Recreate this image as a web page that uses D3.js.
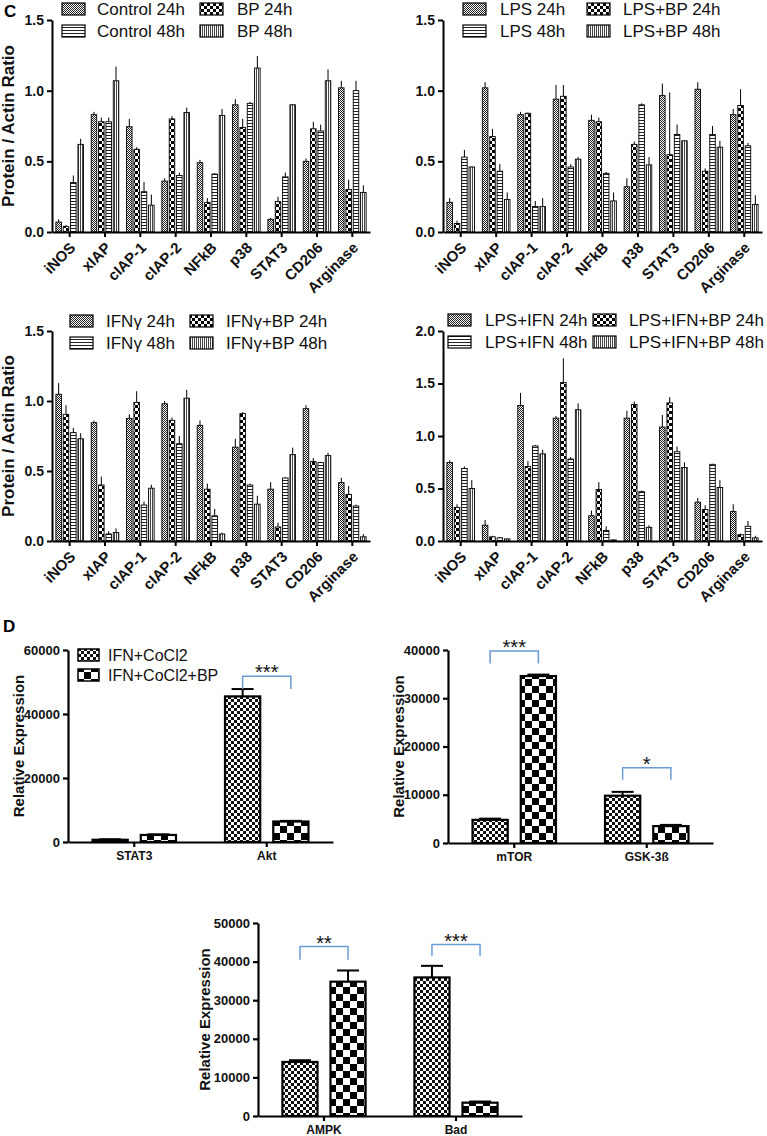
<!DOCTYPE html>
<html>
<head>
<meta charset="utf-8">
<script src="https://cdn.jsdelivr.net/npm/d3@7"></script>
<style>
  body { margin: 0; background: #fff; }
  svg { display: block; }
  text { font-family: "Liberation Sans", Arial, sans-serif; }
</style>
</head>
<body>
<div id="chart"></div>
<script>
// ---- data ----
var genes = ["iNOS", "xIAP", "cIAP-1", "cIAP-2", "NFkB", "p38", "STAT3", "CD206", "Arginase"];

var controlNames = ["Control 24h", "BP 24h", "Control 48h", "BP 48h"];
var ctrl24 = [0.07, 0.83, 0.745, 0.36, 0.49, 0.90, 0.09, 0.50, 1.02];
var ctrl24Err = [0.02, 0.02, 0.055, 0.02, 0.02, 0.04, 0.01, 0.02, 0.05];
var bp24 = [0.04, 0.78, 0.585, 0.80, 0.21, 0.74, 0.215, 0.73, 0.30];
var bp24Err = [0.01, 0.03, 0.015, 0.02, 0.03, 0.06, 0.035, 0.05, 0.07];
var ctrl48 = [0.35, 0.78, 0.285, 0.40, 0.41, 0.91, 0.39, 0.715, 1.00];
var ctrl48Err = [0.05, 0.03, 0.07, 0.02, 0.005, 0.01, 0.03, 0.045, 0.07];
var bp48 = [0.62, 1.07, 0.19, 0.845, 0.825, 1.16, 0.90, 1.07, 0.28];
var bp48Err = [0.04, 0.10, 0.075, 0.035, 0.045, 0.085, 0.005, 0.08, 0.05];

var lpsNames = ["LPS 24h", "LPS+BP 24h", "LPS 48h", "LPS+BP 48h"];
var lps24 = [0.21, 1.02, 0.83, 0.94, 0.79, 0.32, 0.965, 1.01, 0.83];
var lps24Err = [0.03, 0.04, 0.02, 0.10, 0.04, 0.06, 0.085, 0.05, 0.04];
var lpsBp24 = [0.06, 0.675, 0.84, 0.96, 0.78, 0.62, 0.547, 0.43, 0.895];
var lpsBp24Err = [0.02, 0.055, 0.005, 0.08, 0.03, 0.02, 0.44, 0.02, 0.115];
var lps48 = [0.53, 0.43, 0.18, 0.46, 0.415, 0.90, 0.69, 0.69, 0.61];
var lps48Err = [0.05, 0.05, 0.04, 0.02, 0.01, 0.01, 0.07, 0.06, 0.02];
var lpsBp48 = [0.46, 0.23, 0.18, 0.515, 0.22, 0.475, 0.645, 0.60, 0.195];
var lpsBp48Err = [0.005, 0.05, 0.06, 0.015, 0.06, 0.055, 0.005, 0.045, 0.065];

var ifnNames = ["IFNγ 24h", "IFNγ+BP 24h", "IFNγ 48h", "IFNγ+BP 48h"];
var ifn24 = [1.048, 0.845, 0.876, 0.98, 0.826, 0.67, 0.37, 0.945, 0.417];
var ifn24Err = [0.08, 0.015, 0.03, 0.02, 0.035, 0.06, 0.05, 0.025, 0.035];
var ifnBp24 = [0.905, 0.40, 0.99, 0.862, 0.37, 0.91, 0.10, 0.567, 0.333];
var ifnBp24Err = [0.065, 0.06, 0.08, 0.02, 0.04, 0.01, 0.03, 0.025, 0.06];
var ifn48 = [0.774, 0.05, 0.257, 0.695, 0.18, 0.40, 0.45, 0.56, 0.25];
var ifn48Err = [0.035, 0.02, 0.025, 0.055, 0.05, 0.01, 0.005, 0.005, 0.01];
var ifnBp48 = [0.73, 0.06, 0.377, 1.02, 0.05, 0.263, 0.617, 0.61, 0.03];
var ifnBp48Err = [0.04, 0.03, 0.025, 0.06, 0.01, 0.06, 0.05, 0.02, 0.02];

var liNames = ["LPS+IFN 24h", "LPS+IFN+BP 24h", "LPS+IFN 48h", "LPS+IFN+BP 48h"];
var li24 = [0.748, 0.15, 1.29, 1.17, 0.24, 1.17, 1.085, 0.37, 0.28];
var li24Err = [0.02, 0.05, 0.12, 0.02, 0.05, 0.07, 0.115, 0.04, 0.07];
var liBp24 = [0.32, 0.04, 0.71, 1.51, 0.49, 1.30, 1.315, 0.30, 0.06];
var liBp24Err = [0.03, 0.01, 0.05, 0.23, 0.07, 0.03, 0.055, 0.04, 0.01];
var li48 = [0.69, 0.03, 0.905, 0.78, 0.10, 0.47, 0.85, 0.73, 0.14];
var li48Err = [0.02, 0.01, 0.01, 0.02, 0.04, 0.01, 0.05, 0.005, 0.05];
var liBp48 = [0.50, 0.02, 0.83, 1.25, 0.01, 0.13, 0.70, 0.51, 0.03];
var liBp48Err = [0.08, 0.005, 0.04, 0.06, 0.005, 0.02, 0.05, 0.07, 0.02];

var dNames = ["IFN+CoCl2", "IFN+CoCl2+BP"];
var d1Genes = ["STAT3", "Akt"];
var d1Base = [700, 45500], d1BaseErr = [150, 2300];
var d1Bp = [2200, 6400], d1BpErr = [200, 200];
var d1Stars = [["Akt", "***", 51800, 47800]];

var d2Genes = ["mTOR", "GSK-3ß"];
var d2Base = [4800, 9800], d2BaseErr = [250, 800];
var d2Bp = [34600, 3500], d2BpErr = [300, 250];
var d2Stars = [["mTOR", "***", 39800, 37200], ["GSK-3ß", "*", 15600, 13100]];

var d3Genes = ["AMPK", "Bad"];
var d3Base = [14000, 35900], d3BaseErr = [450, 3000];
var d3Bp = [34800, 3450], d3BpErr = [2900, 300];
var d3Stars = [["AMPK", "**", 43900, 40500], ["Bad", "***", 44400, 41500]];

// ---- drawing ----
var svg = d3.select("#chart").append("svg")
  .attr("width", 767)
  .attr("height", 1136);

var defs = svg.append("defs");

function checker(id, size, color) {
  var p = defs.append("pattern").attr("id", id)
    .attr("patternUnits", "userSpaceOnUse")
    .attr("width", size * 2).attr("height", size * 2);
  p.append("rect").attr("width", size * 2).attr("height", size * 2).attr("fill", "#fff");
  p.append("rect").attr("width", size).attr("height", size).attr("fill", color);
  p.append("rect").attr("x", size).attr("y", size).attr("width", size).attr("height", size).attr("fill", color);
}
checker("fine", 1, "#222");
checker("big", 3, "#000");
checker("dfine", 3, "#111");
checker("dbig", 7, "#000");

var hs = defs.append("pattern").attr("id", "hstripe")
  .attr("patternUnits", "userSpaceOnUse").attr("width", 4).attr("height", 3);
hs.append("rect").attr("width", 4).attr("height", 3).attr("fill", "#fff");
hs.append("rect").attr("width", 4).attr("height", 1).attr("fill", "#222");

var vs = defs.append("pattern").attr("id", "vstripe")
  .attr("patternUnits", "userSpaceOnUse").attr("width", 2).attr("height", 4);
vs.append("rect").attr("width", 2).attr("height", 4).attr("fill", "#fff");
vs.append("rect").attr("width", 1).attr("height", 4).attr("fill", "#444");

var fillsC = ["url(#fine)", "url(#big)", "url(#hstripe)", "url(#vstripe)"];

function styleAxis(g, w) {
  g.select(".domain").attr("stroke", "#000").attr("stroke-width", w);
  g.selectAll(".tick line").attr("stroke", "#000").attr("stroke-width", w);
}

function drawC(cfg) {
  var y = d3.scaleLinear().domain([0, cfg.max]).range([cfg.bottom, cfg.top]);
  var x0 = d3.scaleBand().domain(genes).range([cfg.left, cfg.right])
    .paddingInner(0.22).paddingOuter(0.11);
  var x1 = d3.scaleBand().domain(d3.range(4)).range([0, x0.bandwidth()]).paddingInner(0.25);

  var g = svg.append("g");
  cfg.values.forEach(function (vals, s) {
    var bars = g.append("g");
    vals.forEach(function (v, i) {
      var bx = x0(genes[i]) + x1(s);
      var cx = bx + x1.bandwidth() / 2;
      bars.append("line")
        .attr("x1", cx).attr("x2", cx)
        .attr("y1", y(v)).attr("y2", y(v + cfg.errs[s][i]))
        .attr("stroke", "#000").attr("stroke-width", 1);
      bars.append("rect")
        .attr("x", bx).attr("y", y(v))
        .attr("width", x1.bandwidth()).attr("height", y(0) - y(v))
        .attr("fill", fillsC[s])
        .attr("stroke", "#000").attr("stroke-width", 0.9);
    });
  });

  var ya = svg.append("g")
    .attr("transform", "translate(" + cfg.left + ",0)")
    .call(d3.axisLeft(y).tickValues(cfg.ticks).tickFormat(d3.format(".1f"))
      .tickSize(5).tickSizeOuter(0));
  styleAxis(ya, 2);
  ya.selectAll("text").attr("font-size", 14).attr("font-weight", "bold")
    .attr("fill", "#111").attr("font-family", "Liberation Sans, Arial, sans-serif");

  var xa = svg.append("g")
    .attr("transform", "translate(0," + cfg.bottom + ")")
    .call(d3.axisBottom(x0).tickSize(5).tickSizeOuter(0));
  styleAxis(xa, 2);
  xa.selectAll("text")
    .attr("font-size", 15).attr("font-weight", "bold").attr("fill", "#111")
    .attr("font-family", "Liberation Sans, Arial, sans-serif")
    .attr("text-anchor", "end")
    .attr("y", 0).attr("dy", "0.35em")
    .attr("transform", "translate(3,13) rotate(-45)");

  if (cfg.title) {
    svg.append("text")
      .attr("transform", "translate(" + cfg.titleX + "," + ((cfg.top + cfg.bottom) / 2) + ") rotate(-90)")
      .attr("text-anchor", "middle")
      .attr("font-size", 17).attr("font-weight", "bold").attr("fill", "#111")
      .text(cfg.title);
  }

  cfg.names.forEach(function (name, s) {
    var col = s % 2, row = Math.floor(s / 2);
    var lx = cfg.legendX[col], ly = cfg.legendY[row];
    svg.append("rect")
      .attr("x", lx).attr("y", ly - 6)
      .attr("width", 23).attr("height", 12)
      .attr("fill", fillsC[s]).attr("stroke", "#000").attr("stroke-width", 1.2);
    svg.append("text")
      .attr("x", cfg.legendTextX[col]).attr("y", ly + 6)
      .attr("font-size", 17).attr("fill", "#111")
      .text(name);
  });
}

drawC({
  names: controlNames,
  values: [ctrl24, bp24, ctrl48, bp48],
  errs: [ctrl24Err, bp24Err, ctrl48Err, bp48Err],
  left: 52, right: 370, top: 20, bottom: 232, max: 1.5, ticks: [0, 0.5, 1, 1.5],
  title: "Protein / Actin Ratio", titleX: 14,
  legendX: [62, 200], legendTextX: [97, 237], legendY: [9, 31]
});
drawC({
  names: lpsNames,
  values: [lps24, lpsBp24, lps48, lpsBp48],
  errs: [lps24Err, lpsBp24Err, lps48Err, lpsBp48Err],
  left: 443, right: 762, top: 20, bottom: 232, max: 1.5, ticks: [0, 0.5, 1, 1.5],
  legendX: [463, 587], legendTextX: [500, 623], legendY: [9, 31]
});
drawC({
  names: ifnNames,
  values: [ifn24, ifnBp24, ifn48, ifnBp48],
  errs: [ifn24Err, ifnBp24Err, ifn48Err, ifnBp48Err],
  left: 52, right: 370, top: 331, bottom: 541, max: 1.5, ticks: [0, 0.5, 1, 1.5],
  title: "Protein / Actin Ratio", titleX: 14,
  legendX: [70, 190], legendTextX: [106, 226], legendY: [321, 343]
});
drawC({
  names: liNames,
  values: [li24, liBp24, li48, liBp48],
  errs: [li24Err, liBp24Err, li48Err, liBp48Err],
  left: 443, right: 762, top: 331, bottom: 541, max: 2.0, ticks: [0, 0.5, 1, 1.5, 2],
  legendX: [448, 593], legendTextX: [485, 629], legendY: [320, 342]
});

var fillsD = ["url(#dfine)", "url(#dbig)"];

function drawD(cfg) {
  var y = d3.scaleLinear().domain([0, cfg.max]).range([cfg.bottom, cfg.top]);
  var x0 = d3.scaleBand().domain(cfg.genes).range([cfg.left, cfg.right])
    .paddingInner(0.37).paddingOuter(0.185);
  var x1 = d3.scaleBand().domain(d3.range(2)).range([0, x0.bandwidth()]).paddingInner(0.27);
  var bw = x1.bandwidth();

  cfg.values.forEach(function (vals, s) {
    vals.forEach(function (v, i) {
      var bx = x0(cfg.genes[i]) + x1(s);
      var cx = bx + bw / 2;
      var ey = y(v + cfg.errs[s][i]);
      svg.append("line")
        .attr("x1", cx).attr("x2", cx).attr("y1", y(v)).attr("y2", ey)
        .attr("stroke", "#000").attr("stroke-width", 2);
      svg.append("line")
        .attr("x1", cx - 11).attr("x2", cx + 11).attr("y1", ey).attr("y2", ey)
        .attr("stroke", "#000").attr("stroke-width", 2);
      svg.append("rect")
        .attr("x", bx).attr("y", y(v))
        .attr("width", bw).attr("height", y(0) - y(v))
        .attr("fill", fillsD[s])
        .attr("stroke", "#000").attr("stroke-width", 2.2);
    });
  });

  var ya = svg.append("g")
    .attr("transform", "translate(" + cfg.left + ",0)")
    .call(d3.axisLeft(y).tickValues(cfg.ticks).tickFormat(d3.format("d"))
      .tickSize(5).tickSizeOuter(0));
  styleAxis(ya, 2.2);
  ya.selectAll("text").attr("font-size", 13).attr("font-weight", "bold")
    .attr("fill", "#111").attr("font-family", "Liberation Sans, Arial, sans-serif");

  var xa = svg.append("g")
    .attr("transform", "translate(0," + cfg.bottom + ")")
    .call(d3.axisBottom(x0).tickSize(5).tickSizeOuter(0));
  styleAxis(xa, 2.2);
  xa.selectAll("text").attr("font-size", 12).attr("font-weight", "bold")
    .attr("fill", "#111").attr("font-family", "Liberation Sans, Arial, sans-serif")
    .attr("y", 9);

  svg.append("text")
    .attr("transform", "translate(" + cfg.titleX + "," + ((cfg.top + cfg.bottom) / 2) + ") rotate(-90)")
    .attr("text-anchor", "middle")
    .attr("font-size", 15).attr("font-weight", "bold").attr("fill", "#111")
    .text("Relative Expression");

  cfg.stars.forEach(function (st) {
    var xa1 = x0(st[0]) + x1(0) + bw / 2;
    var xa2 = x0(st[0]) + x1(1) + bw / 2;
    svg.append("path")
      .attr("d", "M" + xa1 + "," + y(st[3]) + "V" + y(st[2]) + "H" + xa2 + "V" + y(st[3]))
      .attr("fill", "none").attr("stroke", "#6a9bd4").attr("stroke-width", 1.5);
    svg.append("text")
      .attr("x", (xa1 + xa2) / 2).attr("y", y(st[2]) + 3)
      .attr("text-anchor", "middle")
      .attr("font-size", 20).attr("fill", "#111")
      .text(st[1]);
  });

  if (cfg.legend) {
    dNames.forEach(function (name, s) {
      var ly = cfg.top + 5 + s * 20;
      svg.append("rect")
        .attr("x", cfg.left + 10).attr("y", ly - 6)
        .attr("width", 21).attr("height", 12)
        .attr("fill", fillsD[s]).attr("stroke", "#000").attr("stroke-width", 1.5);
      svg.append("text")
        .attr("x", cfg.left + 40).attr("y", ly + 6)
        .attr("font-size", 16).attr("fill", "#111")
        .text(name);
    });
  }
}

drawD({
  genes: d1Genes, values: [d1Base, d1Bp], errs: [d1BaseErr, d1BpErr], stars: d1Stars,
  left: 68, right: 333, top: 650, bottom: 842, max: 60000, ticks: [0, 20000, 40000, 60000],
  titleX: 24, legend: true
});
drawD({
  genes: d2Genes, values: [d2Base, d2Bp], errs: [d2BaseErr, d2BpErr], stars: d2Stars,
  left: 448, right: 713, top: 650, bottom: 843, max: 40000, ticks: [0, 10000, 20000, 30000, 40000],
  titleX: 404
});
drawD({
  genes: d3Genes, values: [d3Base, d3Bp], errs: [d3BaseErr, d3BpErr], stars: d3Stars,
  left: 258, right: 522, top: 923, bottom: 1116, max: 50000, ticks: [0, 10000, 20000, 30000, 40000, 50000],
  titleX: 210
});

// panel letters
svg.append("text").attr("x", 4).attr("y", 17)
  .attr("font-size", 17).attr("font-weight", "bold").text("C");
svg.append("text").attr("x", 3).attr("y", 632)
  .attr("font-size", 17).attr("font-weight", "bold").text("D");
</script>
</body>
</html>
